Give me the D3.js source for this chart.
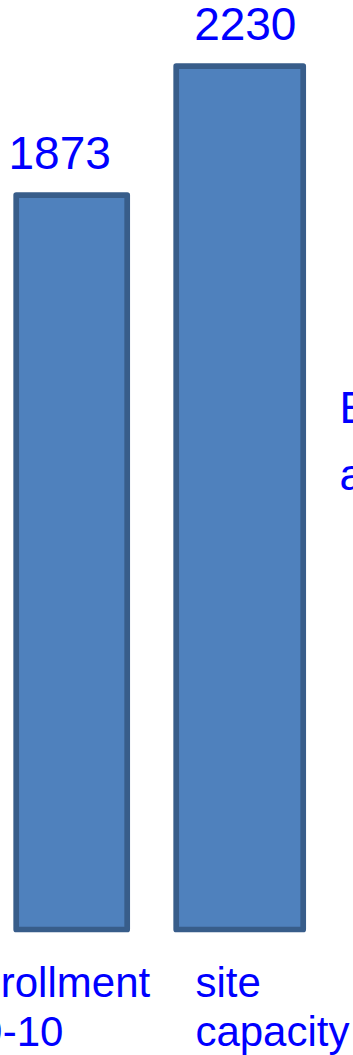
<!DOCTYPE html>
<html>
<head>
<meta charset="utf-8">
<script src="https://cdn.jsdelivr.net/npm/d3@7"></script>
<style>
  html, body { margin: 0; padding: 0; background: #ffffff; overflow: hidden; }
  svg { display: block; }
  text { font-family: "Liberation Sans", Arial, Helvetica, sans-serif; fill: #0000FF; }
</style>
</head>
<body>
<svg id="chart" width="353" height="1055"></svg>
<script>
// ---- data ----
const categories = ["Enrollment 09-10", "site capacity"];
const categoryLines = [["Enrollment", "09-10"], ["site", "capacity"]];
const values = [1873, 2230];
const sideNote = ["E", "a"];

// ---- layout ----
const W = 353, H = 1055;
const baseline = 929.5;          // bottom edge of the bars
const svg = d3.select("#chart");

const x = d3.scaleBand()
  .domain(categories)
  .range([-12.3, 323.7])
  .paddingInner(0.258)
  .paddingOuter(0.129);

const y = d3.scaleLinear()
  .domain([0, d3.max(values)])
  .range([871.4, 66.2]);

// per-bar drawing widths (stroke centre) and label nudges
const barW = [111, 127];
const valueDx = [-12, 5.6];
const catX = [-50.6, 195.4];
const lineDx = [[0, 6.6], [0, 0]];

const data = categories.map((c, i) => ({ cat: c, value: values[i], lines: categoryLines[i], i }));
const cx = d => x(d.cat) + x.bandwidth() / 2;

svg.selectAll("rect.bar")
  .data(data)
  .join("rect")
  .attr("class", "bar")
  .attr("x", d => cx(d) - barW[d.i] / 2)
  .attr("width", d => barW[d.i])
  .attr("y", d => y(d.value))
  .attr("height", d => baseline - y(d.value))
  .attr("fill", "#4F81BD")
  .attr("stroke", "#385D8A")
  .attr("stroke-width", 5.7)
  .attr("stroke-linejoin", "round");

svg.selectAll("text.val")
  .data(data)
  .join("text")
  .attr("class", "val")
  .attr("x", d => cx(d) + valueDx[d.i])
  .attr("y", d => y(d.value) - 26.5)
  .attr("text-anchor", "middle")
  .attr("font-size", 46)
  .text(d => d3.format("d")(d.value));

const cat = svg.selectAll("text.cat")
  .data(data)
  .join("text")
  .attr("class", "cat")
  .attr("font-size", 42)
  .attr("text-anchor", "start");
cat.selectAll("tspan")
  .data(d => d.lines.map((l, k) => ({ l, k, i: d.i })))
  .join("tspan")
  .attr("x", t => catX[t.i] + lineDx[t.i][t.k])
  .attr("y", t => 997 + t.k * 49)
  .text(t => t.l);

svg.selectAll("text.note")
  .data(sideNote)
  .join("text")
  .attr("class", "note")
  .attr("x", 339.5)
  .attr("y", (d, k) => 423 + k * 67)
  .attr("font-size", 44)
  .text(d => d);
</script>
</body>
</html>
